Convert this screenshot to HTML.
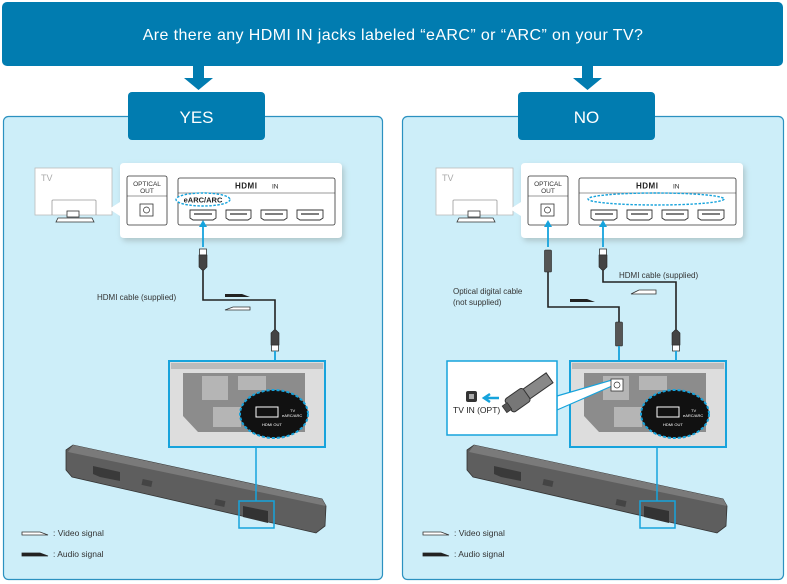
<!DOCTYPE html>
<html><head><meta charset="utf-8"><style>
html,body{margin:0;padding:0;background:#fff;width:787px;height:584px;overflow:hidden}
text{font-family:"Liberation Sans",sans-serif}
</style></head><body>
<svg width="787" height="584" viewBox="0 0 787 584" xmlns="http://www.w3.org/2000/svg">
<defs>
<filter id="sh" x="-10%" y="-20%" width="120%" height="140%"><feGaussianBlur stdDeviation="3"/></filter>
<g id="tvpanel">
  <rect x="35" y="168" width="77" height="47" fill="#fff" stroke="#bbb" stroke-width="0.8"/>
  <text x="41" y="181" font-size="9" fill="#aaa">TV</text>
  <path d="M52 215 V201 Q52 200 53 200 H95 Q96 200 96 201 V215" fill="none" stroke="#999" stroke-width="0.8"/>
  <rect x="67" y="211" width="12" height="6" fill="#fff" stroke="#333" stroke-width="0.8"/>
  <path d="M58 218 H92 L94 222 H56 Z" fill="#fff" stroke="#333" stroke-width="0.8"/>
  <rect x="122" y="166" width="222" height="75" rx="4" fill="#9aa" opacity="0.6" filter="url(#sh)"/>
  <path d="M120 167 Q120 163 124 163 H338 Q342 163 342 167 V234 Q342 238 338 238 H124 Q120 238 120 234 V216 L109 209 L120 202 Z" fill="#fff"/>
  <rect x="127" y="176" width="40" height="49" rx="2" fill="none" stroke="#333" stroke-width="0.8"/>
  <text x="147" y="186" font-size="6.5" text-anchor="middle" fill="#333">OPTICAL</text>
  <text x="147" y="193" font-size="6.5" text-anchor="middle" fill="#333">OUT</text>
  <line x1="127" y1="196" x2="167" y2="196" stroke="#333" stroke-width="0.6"/>
  <rect x="140" y="204" width="13" height="12" fill="#fff" stroke="#333" stroke-width="0.8"/>
  <circle cx="146.5" cy="210" r="3" fill="none" stroke="#333" stroke-width="0.7"/>
  <rect x="178" y="178" width="157" height="47" rx="2" fill="none" stroke="#333" stroke-width="0.8"/>
  <line x1="178" y1="193" x2="335" y2="193" stroke="#333" stroke-width="0.6"/>
  <text x="235" y="188.5" font-size="8" font-weight="bold" fill="#222" letter-spacing="0.5">HDMI</text>
  <text x="272" y="188.5" font-size="6.5" fill="#222">IN</text>
  <g fill="#fff" stroke="#333" stroke-width="0.9">
    <path d="M190 210 H216 V218 L213 220 H193 L190 218 Z"/>
    <path d="M226 210 H251 V218 L248 220 H229 L226 218 Z"/>
    <path d="M261 210 H287 V218 L284 220 H264 L261 218 Z"/>
    <path d="M297 210 H323 V218 L320 220 H300 L297 218 Z"/>
  </g>
  <g fill="none" stroke="#333" stroke-width="1.2">
    <line x1="194" y1="214" x2="212" y2="214"/><line x1="230" y1="214" x2="247" y2="214"/>
    <line x1="265" y1="214" x2="283" y2="214"/><line x1="301" y1="214" x2="319" y2="214"/>
  </g>
</g>
<g id="soundbar">
  <path d="M66 450 L73 445 L322 499 L326 506 L325 526 L316 533 L72 477 L66 470 Z" fill="#5e5e5e" stroke="#333" stroke-width="0.8"/>
  <path d="M73 445 L322 499 L326 506 L68 452 Z" fill="#7a7a7a"/>
  <path d="M93 466 L120 472 L120 481 L100 477 L93 474 Z" fill="#3a3a3a"/>
  <rect x="142" y="480" width="10" height="6" fill="#444" transform="rotate(12 147 483)"/>
  <rect x="215" y="500" width="10" height="6" fill="#444" transform="rotate(12 220 503)"/>
  <path d="M243 506 L268 511 L268 523 L243 517 Z" fill="#333"/>
  <rect x="169" y="361" width="156" height="86" fill="#ddd" stroke="#16a3dc" stroke-width="2"/>
  <rect x="171" y="363" width="152" height="6" fill="#bbb"/>
  <path d="M183 373 H305 V432 H198 L183 416 Z" fill="#8c8c8c"/>
  <rect x="202" y="376" width="26" height="24" fill="#b5b5b5"/>
  <rect x="238" y="376" width="28" height="14" fill="#b5b5b5"/>
  <rect x="213" y="407" width="28" height="20" fill="#b5b5b5"/>
  <line x1="256" y1="447" x2="256" y2="501" stroke="#16a3dc" stroke-width="1.5"/>
  <rect x="239" y="501" width="35" height="27" fill="none" stroke="#16a3dc" stroke-width="1.5"/>
  <ellipse cx="274" cy="414" rx="34" ry="24" fill="#111" stroke="#16a3dc" stroke-width="2" stroke-dasharray="3 2"/>
  <rect x="256" y="407" width="22" height="10" fill="#111" stroke="#fff" stroke-width="1"/>
  <text x="290" y="412" font-size="4" fill="#fff">TV</text>
  <text x="282" y="417" font-size="4" fill="#fff">eARC/ARC</text>
  <text x="262" y="426" font-size="4" fill="#fff">HDMI OUT</text>
  <path d="M22 532 H40 L48 535 H22 Z" fill="#fff" stroke="#333" stroke-width="0.8"/>
  <text x="53" y="536" font-size="8.5" fill="#333">: Video signal</text>
  <path d="M22 553 H40 L48 556 H22 Z" fill="#222" stroke="#222" stroke-width="0.8"/>
  <text x="53" y="557" font-size="8.5" fill="#333">: Audio signal</text>
</g>
<g id="plug"><rect x="-3.5" y="0" width="7" height="6" fill="#fff" stroke="#333" stroke-width="0.8"/><path d="M-4 6 H4 V18 L1 21 H-1 L-4 18 Z" fill="#444" stroke="#222" stroke-width="0.6"/></g>
<g id="plugup"><rect x="-3.5" y="15" width="7" height="6" fill="#fff" stroke="#333" stroke-width="0.8"/><path d="M-4 15 H4 V3 L1 0 H-1 L-4 3 Z" fill="#444" stroke="#222" stroke-width="0.6"/></g>
</defs>

<rect x="2" y="2" width="781" height="64" rx="5" fill="#017cb0"/>
<text x="393" y="40" font-size="16" fill="#fff" text-anchor="middle" letter-spacing="0.4">Are there any HDMI IN jacks labeled “eARC” or “ARC” on your TV?</text>
<path d="M193 66 H204 V78 H213 L198.5 90 L184 78 H193 Z" fill="#017cb0"/>
<path d="M582 66 H593 V78 H602 L587.5 90 L573 78 H582 Z" fill="#017cb0"/>

<rect x="3.5" y="116.5" width="379" height="463" rx="5" fill="#cdeef9" stroke="#2b91c0" stroke-width="1.2"/>
<rect x="402.5" y="116.5" width="381" height="463" rx="5" fill="#cdeef9" stroke="#2b91c0" stroke-width="1.2"/>
<rect x="128" y="92" width="137" height="48" rx="4" fill="#017cb0"/>
<text x="196.5" y="123" font-size="17" fill="#fff" text-anchor="middle">YES</text>
<rect x="518" y="92" width="137" height="48" rx="4" fill="#017cb0"/>
<text x="586.5" y="123" font-size="17" fill="#fff" text-anchor="middle">NO</text>

<use href="#tvpanel"/>
<ellipse cx="203" cy="199.5" rx="27" ry="6.5" fill="#fff" stroke="#16a3dc" stroke-width="1.4" stroke-dasharray="2.5 1.5"/>
<text x="203" y="202.5" font-size="7.5" font-weight="bold" fill="#222" text-anchor="middle">eARC/ARC</text>
<line x1="203" y1="247" x2="203" y2="226" stroke="#16a3dc" stroke-width="1.8"/>
<path d="M199 227 L203 220 L207 227 Z" fill="#16a3dc"/>
<use href="#plug" x="203" y="249"/>
<path d="M203 270 V300 H275 V330" fill="none" stroke="#222" stroke-width="1.6"/>
<use href="#plugup" x="275" y="330"/>
<line x1="275" y1="351" x2="275" y2="370" stroke="#16a3dc" stroke-width="1.8"/>
<path d="M271 369 L275 376 L279 369 Z" fill="#16a3dc"/>
<path d="M225 294 H242 L250 297 H225 Z" fill="#222"/>
<path d="M250 307 H233 L225 310 H250 Z" fill="#fff" stroke="#333" stroke-width="0.8"/>
<text x="97" y="300" font-size="8" fill="#333">HDMI cable (supplied)</text>
<use href="#soundbar"/>

<use href="#tvpanel" x="401"/>
<ellipse cx="656" cy="199" rx="68" ry="6" fill="none" stroke="#16a3dc" stroke-width="1.4" stroke-dasharray="2.5 1.5"/>
<line x1="548" y1="247" x2="548" y2="226" stroke="#16a3dc" stroke-width="1.8"/>
<path d="M544 227 L548 220 L552 227 Z" fill="#16a3dc"/>
<line x1="603" y1="247" x2="603" y2="226" stroke="#16a3dc" stroke-width="1.8"/>
<path d="M599 227 L603 220 L607 227 Z" fill="#16a3dc"/>
<rect x="544.5" y="250" width="7" height="22" rx="1" fill="#555" stroke="#222" stroke-width="0.6"/>
<path d="M548 272 V307 H619 V322" fill="none" stroke="#222" stroke-width="1.6"/>
<rect x="615.5" y="322" width="7" height="24" rx="1" fill="#555" stroke="#222" stroke-width="0.6"/>
<line x1="619" y1="346" x2="619" y2="374" stroke="#16a3dc" stroke-width="1.8"/>
<path d="M615 373 L619 380 L623 373 Z" fill="#16a3dc"/>
<use href="#plug" x="603" y="249"/>
<path d="M603 270 V282 H676 V330" fill="none" stroke="#222" stroke-width="1.6"/>
<use href="#plugup" x="676" y="330"/>
<line x1="676" y1="351" x2="676" y2="392" stroke="#16a3dc" stroke-width="1.8"/>
<path d="M672 391 L676 398 L680 391 Z" fill="#16a3dc"/>
<path d="M570 299 H587 L595 302 H570 Z" fill="#222"/>
<path d="M656 290 H639 L631 294 H656 Z" fill="#fff" stroke="#333" stroke-width="0.8"/>
<text x="619" y="278" font-size="8" fill="#333">HDMI cable (supplied)</text>
<text x="453" y="294" font-size="8" fill="#333">Optical digital cable</text>
<text x="453" y="305" font-size="8" fill="#333">(not supplied)</text>
<use href="#soundbar" x="401"/>
<path d="M557 396 L612 380 L612 386 L557 410 Z" fill="#fff" stroke="#16a3dc" stroke-width="1.2"/>
<rect x="447" y="361" width="110" height="74" fill="#fff" stroke="#16a3dc" stroke-width="1.5"/>
<rect x="466" y="391" width="11" height="11" rx="2" fill="#333"/>
<rect x="469" y="394" width="5" height="5" fill="#aaa"/>
<path d="M499 398 H486 M490 394 L484 398 L490 402" fill="none" stroke="#16a3dc" stroke-width="2.5"/>
<text x="453" y="413" font-size="8.5" fill="#222">TV IN (OPT)</text>
<g transform="rotate(-35 525 395)">
  <rect x="525" y="389" width="30" height="12" fill="#888" stroke="#333" stroke-width="1"/>
  <rect x="505" y="387" width="22" height="16" rx="3" fill="#777" stroke="#333" stroke-width="1"/>
  <rect x="500" y="391" width="6" height="8" fill="#555" stroke="#333" stroke-width="0.8"/>
</g>
<rect x="611" y="379" width="12" height="12" fill="#fff" stroke="#333" stroke-width="0.8"/>
<circle cx="617" cy="385" r="3" fill="none" stroke="#333" stroke-width="0.7"/>
</svg>
</body></html>
